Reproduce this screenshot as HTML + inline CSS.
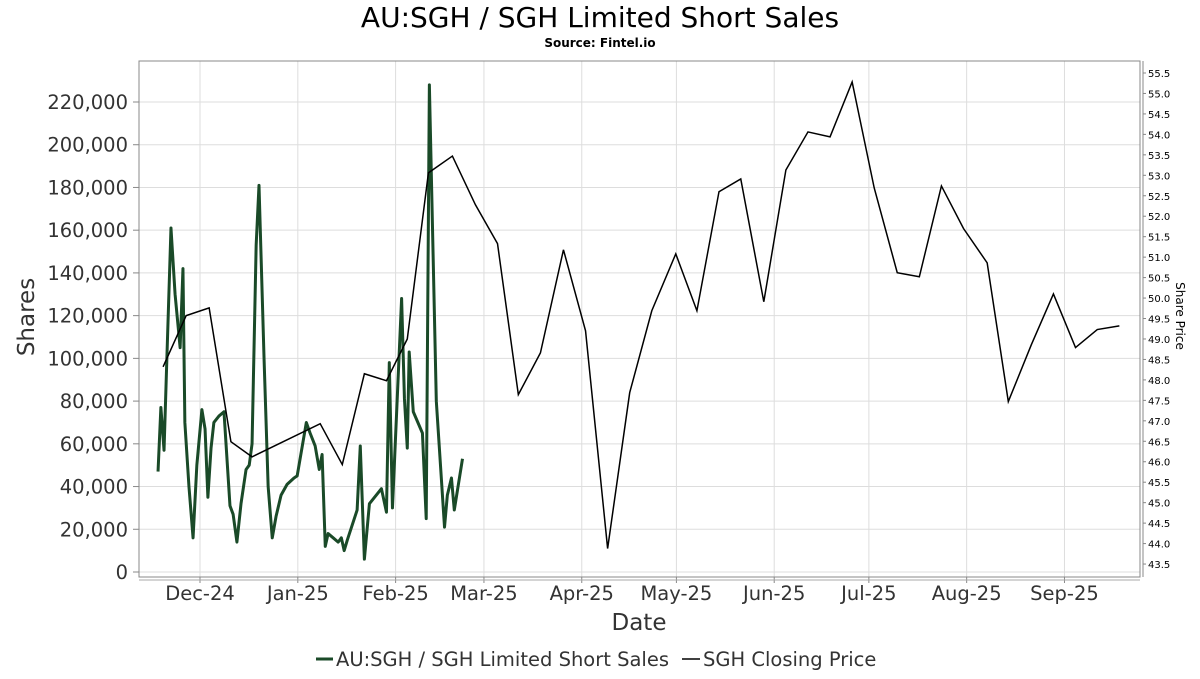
<!DOCTYPE html>
<html><head><meta charset="utf-8"><style>
body{margin:0;background:#fff;font-family:"DejaVu Sans","Liberation Sans",sans-serif}
</style></head><body>
<svg id="chart" width="1200" height="675" xmlns="http://www.w3.org/2000/svg" font-family="DejaVu Sans, Liberation Sans, sans-serif">
<text x="600" y="27" text-anchor="middle" font-size="28" fill="#000">AU:SGH / SGH Limited Short Sales</text>
<text x="600" y="47" text-anchor="middle" font-size="12" font-weight="bold" fill="#000">Source: Fintel.io</text>
<g id="grid"></g>
<rect x="139" y="61" width="1001" height="516" fill="none" stroke="#888" stroke-width="1"/>
<g id="axes"></g>
<g id="series"></g>
<text transform="translate(34,317) rotate(-90)" text-anchor="middle" font-size="23" fill="#333">Shares</text>
<text transform="translate(1176,316) rotate(90)" text-anchor="middle" font-size="12" fill="#000">Share Price</text>
<text x="639" y="630" text-anchor="middle" font-size="23" fill="#333">Date</text>
<g>
<line x1="316" y1="659" x2="333" y2="659" stroke="#1a4a28" stroke-width="3"/>
<text x="336" y="666" font-size="19.5" fill="#333">AU:SGH / SGH Limited Short Sales</text>
<line x1="682" y1="659" x2="700" y2="659" stroke="#000" stroke-width="1.5"/>
<text x="703" y="666" font-size="19.5" fill="#333">SGH Closing Price</text>
</g>
</svg>
<script>
// day offsets from 2024-12-01
const shortDays=[-13.3,-12.4,-11.4,-10.5,-9.2,-7.9,-6.3,-5.4,-4.8,-3.5,-2.2,-1,0.6,1.6,2.5,3.5,4.4,6,7.6,9.5,10.5,11.7,13,14.6,15.6,16.5,17.8,18.7,20.3,21.6,22.9,24.1,25.7,27.6,29.8,30.8,33.7,34.9,36.5,37.8,38.7,39.7,40.6,42.2,43.8,44.8,45.7,46.7,49.8,50.8,52.1,53.7,57.5,59.1,60,61,63.9,64.8,65.7,66.3,67.6,70.5,71.7,72.7,74.9,77.5,78.4,79.7,80.6,83.2],
shortVals=[47000,77000,57000,100000,161000,130000,105000,142000,70000,40000,16000,50000,76000,67000,35000,58000,70000,73000,75000,31000,27000,14000,32000,48000,50000,60000,153000,181000,100000,40000,16000,26000,36000,41000,44000,45000,70000,65000,59000,48000,55000,12000,18000,16000,14000,16000,10000,15000,29000,59000,6000,32000,39000,28000,98000,30000,128000,81000,58000,103000,75000,65000,25000,228000,80000,21000,36000,44000,29000,53000];
const priceDays=[-11.7,-4.4,2.9,9.8,16.5,38.1,45.1,52.1,59.1,65.7,72.4,80,87.3,94.3,100.9,107.9,115.2,122.2,129.2,136.2,143.2,150.8,157.5,164.5,171.4,178.7,185.7,192.7,199.7,206.7,213.7,221,228,235,242,249.5,256.2,263.5,270.5,277.5,284.4,291.4],
priceVals=[48.32,49.57,49.76,46.49,46.12,46.93,45.93,48.15,47.98,49.0,53.06,53.47,52.28,51.33,47.64,48.66,51.18,49.2,43.88,47.69,49.69,51.08,49.69,52.6,52.91,49.91,53.13,54.06,53.94,55.28,52.69,50.62,50.52,52.74,51.7,50.86,47.47,48.86,50.1,48.79,49.23,49.32];
const xTickLabels=["Dec-24","Jan-25","Feb-25","Mar-25","Apr-25","May-25","Jun-25","Jul-25","Aug-25","Sep-25"];
const xTickDays=[0,31,62,90,121,151,182,212,243,274];
const yTicks=[0,20000,40000,60000,80000,100000,120000,140000,160000,180000,200000,220000];
const y2Ticks=[43.5,44,44.5,45,45.5,46,46.5,47,47.5,48,48.5,49,49.5,50,50.5,51,51.5,52,52.5,53,53.5,54,54.5,55,55.5];
const NS="http://www.w3.org/2000/svg";
const X=d=>200+d*3.155, Y=v=>572-v*(470/220000), Y2=p=>73+(55.5-p)*40.92;
function mk(tag,attrs,parent,text){const e=document.createElementNS(NS,tag);for(const k in attrs)e.setAttribute(k,attrs[k]);if(text!==undefined)e.textContent=text;parent.appendChild(e);return e;}
const grid=document.getElementById('grid'),axes=document.getElementById('axes'),series=document.getElementById('series');
yTicks.forEach(v=>{
 const l=mk('line',{x1:139,x2:1140,y1:Y(v),y2:Y(v),stroke:'#ddd','stroke-width':1},grid);
 
 
 const t=mk('text',{x:128,y:Y(v)+7,'text-anchor':'end','font-size':19.5,fill:'#333'},axes,v.toLocaleString('en-US'));
 
 
 mk('line',{x1:133,x2:139,y1:Y(v),y2:Y(v),stroke:'#888'},axes);
});
xTickDays.forEach((d,i)=>{
 const l=mk('line',{x1:X(d),x2:X(d),y1:61,y2:577,stroke:'#ddd','stroke-width':1},grid);
 
 
 mk('line',{x1:X(d),x2:X(d),y1:577,y2:583,stroke:'#888'},axes);
 const t=mk('text',{x:X(d),y:600,'text-anchor':'middle','font-size':19.5,fill:'#333'},axes,xTickLabels[i]);
 
 
});
mk('line',{x1:139,x2:1140,y1:580,y2:580,stroke:'#aaa'},axes);
mk('line',{x1:1143,x2:1143,y1:61,y2:577,stroke:'#888'},axes);
y2Ticks.forEach(p=>{
 mk('line',{x1:1143,x2:1146,y1:Y2(p),y2:Y2(p),stroke:'#888'},axes);
 const t=mk('text',{x:1148,y:Y2(p)+4,'font-size':10,fill:'#000'},axes,p.toFixed(1));
 
 
});
const sp=mk('polyline',{points:shortDays.map((d,i)=>X(d)+','+Y(shortVals[i])).join(' '),fill:'none',stroke:'#1a4a28','stroke-width':3,'stroke-linejoin':'round'},series);


const pp=mk('polyline',{points:priceDays.map((d,i)=>X(d)+','+Y2(priceVals[i])).join(' '),fill:'none',stroke:'#000','stroke-width':1.5},series);


</script>
</body></html>
